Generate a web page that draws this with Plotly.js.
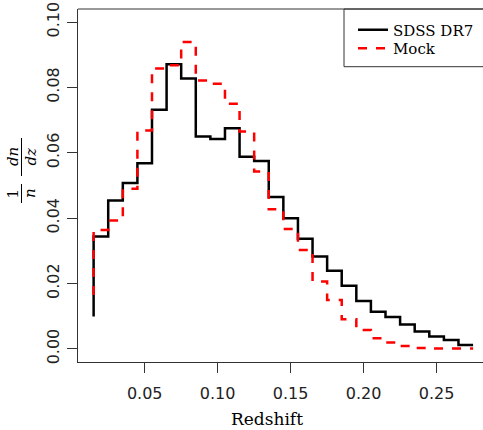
<!DOCTYPE html>
<html>
<head>
<meta charset="utf-8">
<script src="https://cdn.plot.ly/plotly-3.0.1.min.js"></script>
<style>html,body{margin:0;padding:0;background:#fff;}#chart{width:483px;height:430px;}</style>
</head>
<body>
<div id="chart"></div>
<script>
// Bin edges (redshift) of the histograms
const binEdges = [0.015, 0.025, 0.035, 0.045, 0.055, 0.065, 0.075, 0.085, 0.095, 0.105,
  0.115, 0.125, 0.135, 0.145, 0.155, 0.165, 0.175, 0.185, 0.195, 0.205,
  0.215, 0.225, 0.235, 0.245, 0.255, 0.265, 0.275];
// Normalised counts (1/n dn/dz) per bin
const sdssStart = 0.0099;
const sdssValues = [0.0344, 0.0454, 0.0508, 0.0568, 0.0732, 0.0871, 0.0827, 0.0650, 0.0642, 0.0675,
  0.0588, 0.0575, 0.0465, 0.0400, 0.0337, 0.0283, 0.0239, 0.0193, 0.0147, 0.0114,
  0.0098, 0.0075, 0.0053, 0.0038, 0.0027, 0.0012];
const mockStart = 0.0165;
const mockValues = [0.0364, 0.0393, 0.0490, 0.0668, 0.0858, 0.0868, 0.0939, 0.0821, 0.0811, 0.0750,
  0.0665, 0.0543, 0.0427, 0.0367, 0.0303, 0.0206, 0.0150, 0.0091, 0.0058, 0.0033,
  0.0020, 0.0009, 0.0003, 0.0001, 0.0001, 0.0001];
const seriesNames = ['SDSS DR7', 'Mock'];
const xTicks = [0.05, 0.10, 0.15, 0.20, 0.25];
const xTickText = ['0.05', '0.10', '0.15', '0.20', '0.25'];
const yTicks = [0.00, 0.02, 0.04, 0.06, 0.08, 0.10];
const yTickText = ['0.00', '0.02', '0.04', '0.06', '0.08', '0.10'];

function stepX() { return [binEdges[0]].concat(binEdges); }
function stepY(start, vals) { return [start].concat(vals, [vals[vals.length - 1]]); }

const traces = [
  {x: stepX(), y: stepY(sdssStart, sdssValues), type: 'scatter', mode: 'lines', name: seriesNames[0],
   legend: 'legend', line: {shape: 'hv', color: '#000000', width: 2.5}},
  {x: stepX(), y: stepY(mockStart, mockValues), type: 'scatter', mode: 'lines', name: seriesNames[1],
   legend: 'legend2', line: {shape: 'hv', color: '#ff0000', width: 2.5, dash: '9px,9px'}}
];

const W = 483, H = 430, ML = 78, MT = 9, MB = 68, MR = 0;
const PW = W - ML - MR, PH = H - MT - MB;
function px(x) { return (x - ML) / PW; }
function py(y) { return (H - MB - y) / PH; }

const serif = 'DejaVu Serif, Liberation Serif, serif';
const axisCommon = {
  showgrid: false, zeroline: false, showline: true, linecolor: '#333', linewidth: 1,
  ticks: 'outside', ticklen: 10, tickcolor: '#333', tickwidth: 1,
  tickfont: {family: 'DejaVu Sans, sans-serif', size: 16, color: '#222'}
};
const legendCommon = {x: px(353), xanchor: 'left', yanchor: 'top', bgcolor: 'rgba(0,0,0,0)', borderwidth: 0,
  font: {family: serif, size: 15, color: '#000'}, tracegroupgap: 0};

const layout = {
  width: W, height: H,
  margin: {l: ML, r: MR, t: MT, b: MB, autoexpand: false},
  paper_bgcolor: '#ffffff', plot_bgcolor: '#ffffff',
  xaxis: Object.assign({}, axisCommon, {range: [0.0043, 0.2818], tickvals: xTicks, ticktext: xTickText,
    ticklabelstandoff: 7}),
  yaxis: Object.assign({}, axisCommon, {range: [-0.004, 0.104], tickvals: yTicks, ticktext: yTickText,
    tickangle: -90, ticklabelstandoff: 2}),
  showlegend: true,
  legend: Object.assign({}, legendCommon, {y: py(13.5)}),
  legend2: Object.assign({}, legendCommon, {y: py(32)}),
  shapes: [
    {type: 'line', xref: 'paper', yref: 'paper', x0: 0, x1: 1.02, y0: 1, y1: 1, line: {color: '#333', width: 1}},
    {type: 'rect', xref: 'paper', yref: 'paper', x0: px(344), x1: 1.05, y0: py(66.7), y1: 1, line: {color: '#333', width: 1}},
    {type: 'line', xref: 'paper', yref: 'paper', x0: px(21.5), x1: px(21.5), y0: py(203), y1: py(184), line: {color: '#000', width: 1}},
    {type: 'line', xref: 'paper', yref: 'paper', x0: px(21.5), x1: px(21.5), y0: py(176), y1: py(138), line: {color: '#000', width: 1}}
  ],
  annotations: [
    {text: 'Redshift', xref: 'paper', yref: 'paper', x: px(267), y: py(419), xanchor: 'center', yanchor: 'middle',
     showarrow: false, font: {family: serif, size: 17, color: '#000'}},
    {text: '1', xref: 'paper', yref: 'paper', x: px(13), y: py(193.5), textangle: -90, showarrow: false,
     xanchor: 'center', yanchor: 'middle', font: {family: serif, size: 15, color: '#000'}},
    {text: '<i>n</i>', xref: 'paper', yref: 'paper', x: px(30.5), y: py(193.5), textangle: -90, showarrow: false,
     xanchor: 'center', yanchor: 'middle', font: {family: serif, size: 15, color: '#000'}},
    {text: '<i>dn</i>', xref: 'paper', yref: 'paper', x: px(13), y: py(157), textangle: -90, showarrow: false,
     xanchor: 'center', yanchor: 'middle', font: {family: serif, size: 15, color: '#000'}},
    {text: '<i>dz</i>', xref: 'paper', yref: 'paper', x: px(30.5), y: py(157), textangle: -90, showarrow: false,
     xanchor: 'center', yanchor: 'middle', font: {family: serif, size: 15, color: '#000'}}
  ]
};

Plotly.newPlot('chart', traces, layout, {displayModeBar: false, staticPlot: true});
</script>
</body>
</html>
